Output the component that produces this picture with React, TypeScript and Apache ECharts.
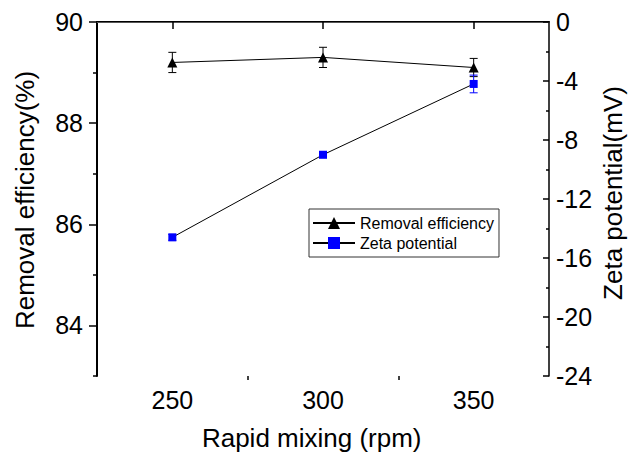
import React, { useEffect, useRef } from "react";
import * as echarts from "echarts";

const mixingSpeeds = [250, 300, 350];
const removalEfficiency = [89.2, 89.3, 89.1];
const removalError = [0.2, 0.2, 0.18];
const zetaPotential = [-14.6, -9.0, -4.2];
const zetaError = [0.2, 0.2, 0.6];
const leftMajorTicks = [84, 86, 88, 90];
const leftMinorTicks = [83, 85, 87, 89];
const bottomMajorTicks = [250, 300, 350];
const bottomMinorTicks = [275, 325];

const FONT = "'Liberation Sans', Arial, sans-serif";

export default function App() {
  const ref = useRef<HTMLDivElement>(null);
  useEffect(() => {
    if (!ref.current) return;
    const chart = echarts.init(ref.current, undefined, { renderer: "svg" });
    const removalData = mixingSpeeds.map((x, i) => [x, removalEfficiency[i]]);
    const zetaData = mixingSpeeds.map((x, i) => [x, zetaPotential[i]]);
    const removalErr = mixingSpeeds.map((x, i) => [x, removalEfficiency[i], removalError[i]]);
    const zetaErr = mixingSpeeds.map((x, i) => [x, zetaPotential[i], zetaError[i]]);

    const errRender = (color: string) => (params: any, api: any) => {
      const x = api.value(0);
      const y = api.value(1);
      const e = api.value(2);
      const hi = api.coord([x, y + e]);
      const lo = api.coord([x, y - e]);
      const w = 4;
      const st = { stroke: color, lineWidth: 1 };
      return {
        type: "group",
        children: [
          { type: "line", shape: { x1: hi[0], y1: hi[1], x2: lo[0], y2: lo[1] }, style: st },
          { type: "line", shape: { x1: hi[0] - w, y1: hi[1], x2: hi[0] + w, y2: hi[1] }, style: st },
          { type: "line", shape: { x1: lo[0] - w, y1: lo[1], x2: lo[0] + w, y2: lo[1] }, style: st },
        ],
      };
    };

    const tickLabel = { color: "#000", fontSize: 25, fontFamily: FONT };

    chart.setOption({
      animation: false,
      backgroundColor: "#fff",
      grid: { left: 97, right: 80, top: 22, bottom: 80, containLabel: false },
      legend: {
        data: ["Removal efficiency", "Zeta potential"],
        orient: "vertical",
        left: 309,
        top: 209,
        borderColor: "#333",
        borderWidth: 1,
        padding: [6, 5, 6, 3],
        itemWidth: 42,
        itemHeight: 15,
        itemGap: 4,
        textStyle: { fontSize: 16, fontFamily: FONT, color: "#000", lineHeight: 16 },
      },
      xAxis: [
        {
          type: "value",
          position: "bottom",
          min: 225,
          max: 375,
          axisLine: { show: true, lineStyle: { color: "#000", width: 2 } },
          axisTick: { show: true, customValues: bottomMajorTicks, length: 7, lineStyle: { color: "#000", width: 1.5 } },
          axisLabel: { customValues: bottomMajorTicks, margin: 11, ...tickLabel },
          splitLine: { show: false },
        },
        {
          type: "value",
          position: "bottom",
          min: 225,
          max: 375,
          axisLine: { show: false },
          axisTick: { show: true, customValues: bottomMinorTicks, length: 4, lineStyle: { color: "#000", width: 1.5 } },
          axisLabel: { show: false },
          splitLine: { show: false },
        },
        {
          type: "value",
          position: "top",
          min: 225,
          max: 375,
          axisLine: { show: true, lineStyle: { color: "#555", width: 1 } },
          axisTick: { show: false },
          axisLabel: { show: false },
          splitLine: { show: false },
        },
      ],
      yAxis: [
        {
          type: "value",
          position: "left",
          min: 83,
          max: 90,
          axisLine: { show: true, lineStyle: { color: "#000", width: 2 } },
          axisTick: { show: true, customValues: leftMajorTicks, length: 8, lineStyle: { color: "#000", width: 1.5 } },
          axisLabel: { customValues: leftMajorTicks, margin: 14, ...tickLabel },
          splitLine: { show: false },
        },
        {
          type: "value",
          position: "left",
          min: 83,
          max: 90,
          axisLine: { show: false },
          axisTick: { show: true, customValues: leftMinorTicks, length: 4, lineStyle: { color: "#000", width: 1.5 } },
          axisLabel: { show: false },
          splitLine: { show: false },
        },
        {
          type: "value",
          position: "right",
          min: -24,
          max: 0,
          interval: 4,
          axisLine: { show: true, lineStyle: { color: "#000", width: 1.5 } },
          axisTick: { show: true, inside: true, length: 6, lineStyle: { color: "#000", width: 1.5 } },
          minorTick: { show: true, splitNumber: 2, length: 3, lineStyle: { color: "#000", width: 1.5 } },
          axisLabel: { margin: 7, ...tickLabel },
          splitLine: { show: false },
        },
      ],
      graphic: [
        {
          type: "text",
          x: 24.5,
          y: 200,
          rotation: Math.PI / 2,
          style: {
            text: "Removal efficiency(%)",
            fontSize: 26,
            fontFamily: FONT,
            fill: "#000",
            textAlign: "center",
            textVerticalAlign: "middle",
          },
        },
        {
          type: "text",
          x: 612.5,
          y: 193,
          rotation: Math.PI / 2,
          style: {
            text: "Zeta potential(mV)",
            fontSize: 26,
            fontFamily: FONT,
            fill: "#000",
            textAlign: "center",
            textVerticalAlign: "middle",
          },
        },
        {
          type: "text",
          x: 311.7,
          y: 438.3,
          style: {
            text: "Rapid mixing (rpm)",
            fontSize: 26,
            fontFamily: FONT,
            fill: "#000",
            textAlign: "center",
            textVerticalAlign: "middle",
          },
        },
      ],
      series: [
        {
          type: "custom",
          name: "removal-err",
          xAxisIndex: 0,
          yAxisIndex: 0,
          z: 1,
          renderItem: errRender("#000"),
          data: removalErr,
          silent: true,
        },
        {
          type: "custom",
          name: "zeta-err",
          xAxisIndex: 0,
          yAxisIndex: 2,
          z: 1,
          renderItem: errRender("#0000ff"),
          data: zetaErr,
          silent: true,
        },
        {
          type: "line",
          name: "Removal efficiency",
          xAxisIndex: 0,
          yAxisIndex: 0,
          z: 3,
          data: removalData,
          symbol: "triangle",
          symbolSize: 10,
          itemStyle: { color: "#000" },
          lineStyle: { color: "#000", width: 1 },
        },
        {
          type: "line",
          name: "Zeta potential",
          xAxisIndex: 0,
          yAxisIndex: 2,
          z: 3,
          data: zetaData,
          symbol: "rect",
          symbolSize: 8,
          itemStyle: { color: "#0000ff" },
          lineStyle: { color: "#000", width: 1 },
        },
      ],
    });
    return () => chart.dispose();
  }, []);
  return (
    <div
      ref={ref}
      style={{ position: "fixed", left: 0, top: 0, width: 629, height: 456 }}
    />
  );
}
